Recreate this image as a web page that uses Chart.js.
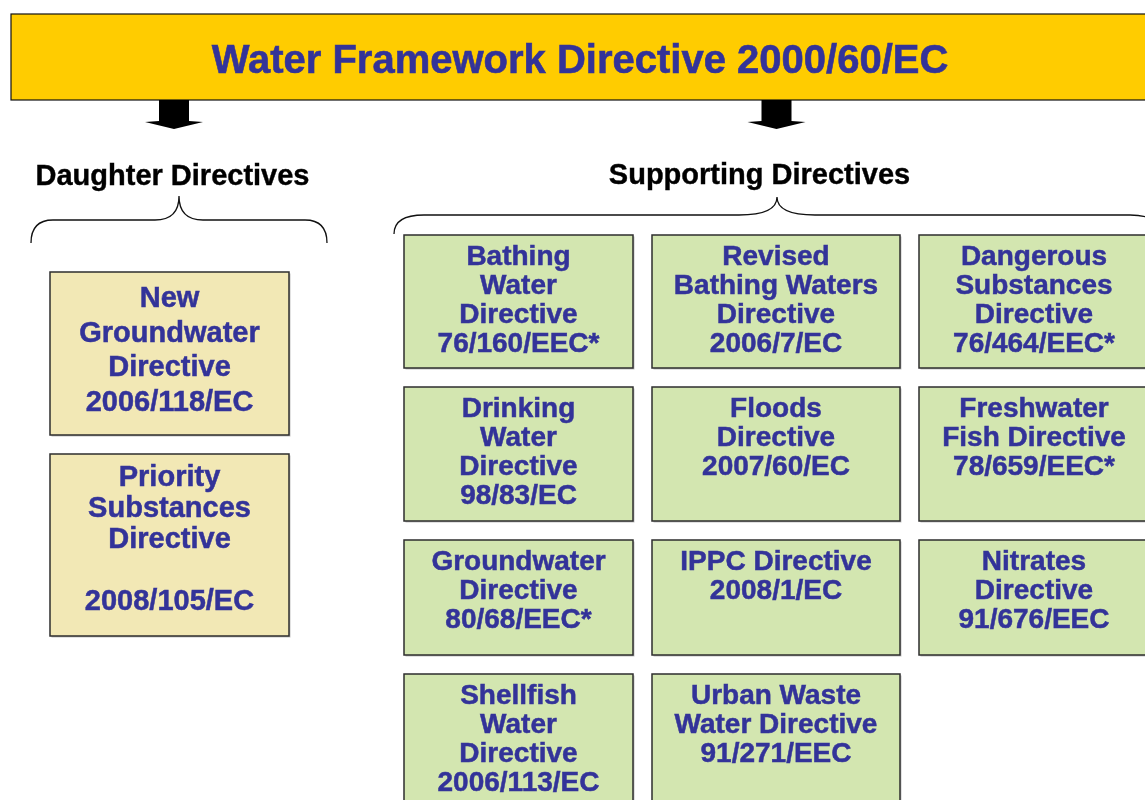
<!DOCTYPE html>
<html>
<head>
<meta charset="utf-8">
<script src="https://cdn.jsdelivr.net/npm/chart.js@4.4.1/dist/chart.umd.min.js"></script>
<style>
  html, body { margin: 0; padding: 0; background: #fff; }
  #wrap { width: 1145px; height: 800px; }
</style>
</head>
<body>
<div id="wrap"><canvas id="chart"></canvas></div>
<script>
// content
const title = "Water Framework Directive 2000/60/EC";
const groups = ["Daughter Directives", "Supporting Directives"];
const daughterDirectives = [
  ["New", "Groundwater", "Directive", "2006/118/EC"],
  ["Priority", "Substances", "Directive", "", "2008/105/EC"],
];
const supportingDirectives = [
  ["Bathing", "Water", "Directive", "76/160/EEC*"],
  ["Revised", "Bathing Waters", "Directive", "2006/7/EC"],
  ["Dangerous", "Substances", "Directive", "76/464/EEC*"],
  ["Drinking", "Water", "Directive", "98/83/EC"],
  ["Floods", "Directive", "2007/60/EC"],
  ["Freshwater", "Fish Directive", "78/659/EEC*"],
  ["Groundwater", "Directive", "80/68/EEC*"],
  ["IPPC Directive", "2008/1/EC"],
  ["Nitrates", "Directive", "91/676/EEC"],
  ["Shellfish", "Water", "Directive", "2006/113/EC"],
  ["Urban Waste", "Water Directive", "91/271/EEC"],
];

// layout, in page units (y grows downwards)
const layout = {
  titleBox: [11, 14, 1170, 100],
  titleY: 62,
  arrows: [174, 776.5],
  groupX: [172.5, 759.5],
  groupY: [177, 176],
  braces: [
    { l: 31, r: 327, tip: 179, top: 196, mid: 220, end: 243, rc: 22, rt: 24 },
    { l: 394, r: 1160, tip: 777, top: 197, mid: 215, end: 234, rc: 30, rt: 38 },
  ],
  daughterX: [50, 289],
  daughterRows: [[272, 435], [454, 636]],
  daughterText: [[27, 34.5], [24, 31]], // first line offset, line height
  cols: [[404, 633], [652, 900], [919, 1149]],
  rows: [[235, 368], [387, 521], [540, 655], [674, 830]],
  supportText: [22.5, 29],
};

const colors = {
  title: "#FFCC00",
  text: "#333399",
  daughter: "#F2E8B5",
  support: "#D3E6B0",
  border: "#2e2e2e",
};
const FONT = "'Liberation Sans', Arial, sans-serif";

const diagramPlugin = {
  id: "diagram",
  afterDraw(chart) {
    const ctx = chart.ctx;
    const X = v => chart.scales.x.getPixelForValue(v);
    const Y = v => chart.scales.y.getPixelForValue(v);

    function box(x0, y0, x1, y1, fill, shadow) {
      const px = X(x0), py = Y(y0), w = X(x1) - px, h = Y(y1) - py;
      if (shadow) {
        ctx.fillStyle = "#c4c4c4";
        ctx.fillRect(px + 1.5, py + 1.5, w, h);
      }
      ctx.fillStyle = fill;
      ctx.fillRect(px, py, w, h);
      ctx.strokeStyle = colors.border;
      ctx.lineWidth = 1.5;
      ctx.strokeRect(px, py, w, h);
    }

    // bold text, slightly thickened to match the heavier original
    function heavyText(t, x, y) {
      ctx.fillText(t, x, y);
      ctx.strokeText(t, x, y);
    }

    function lines(list, cx, y0, lh, size) {
      ctx.font = "bold " + size + "px " + FONT;
      ctx.fillStyle = colors.text;
      ctx.strokeStyle = colors.text;
      ctx.lineWidth = 0.5;
      ctx.textAlign = "center";
      ctx.textBaseline = "middle";
      list.forEach((t, i) => heavyText(t, X(cx), Y(y0 + i * lh)));
    }

    ctx.save();

    // title bar
    const tb = layout.titleBox;
    ctx.fillStyle = colors.title;
    ctx.fillRect(X(tb[0]), Y(tb[1]), X(tb[2]) - X(tb[0]), Y(tb[3]) - Y(tb[1]));
    ctx.strokeStyle = "#111";
    ctx.lineWidth = 1.2;
    ctx.strokeRect(X(tb[0]), Y(tb[1]), X(tb[2]) - X(tb[0]), Y(tb[3]) - Y(tb[1]));
    ctx.font = "bold 40px " + FONT;
    ctx.fillStyle = colors.text;
    ctx.strokeStyle = colors.text;
    ctx.lineWidth = 0.6;
    ctx.textAlign = "center";
    ctx.textBaseline = "middle";
    heavyText(title, X(580), Y(layout.titleY));

    // arrows
    ctx.fillStyle = "#000";
    layout.arrows.forEach(cx => {
      ctx.beginPath();
      ctx.moveTo(X(cx - 15), Y(100));
      ctx.lineTo(X(cx + 15), Y(100));
      ctx.lineTo(X(cx + 15), Y(121));
      ctx.lineTo(X(cx + 29), Y(122));
      ctx.lineTo(X(cx), Y(129));
      ctx.lineTo(X(cx - 29), Y(122));
      ctx.lineTo(X(cx - 15), Y(121));
      ctx.closePath();
      ctx.fill();
    });

    // group headings
    ctx.font = "bold 29px " + FONT;
    ctx.fillStyle = "#000";
    ctx.strokeStyle = "#000";
    ctx.lineWidth = 0.4;
    groups.forEach((g, i) => heavyText(g, X(layout.groupX[i]), Y(layout.groupY[i])));

    // braces
    ctx.strokeStyle = "#111";
    ctx.lineWidth = 1.3;
    layout.braces.forEach(b => {
      ctx.beginPath();
      ctx.moveTo(X(b.l), Y(b.end));
      ctx.quadraticCurveTo(X(b.l), Y(b.mid), X(b.l + b.rc), Y(b.mid));
      ctx.lineTo(X(b.tip - b.rt), Y(b.mid));
      ctx.quadraticCurveTo(X(b.tip), Y(b.mid), X(b.tip), Y(b.top));
      ctx.quadraticCurveTo(X(b.tip), Y(b.mid), X(b.tip + b.rt), Y(b.mid));
      ctx.lineTo(X(b.r - b.rc), Y(b.mid));
      ctx.quadraticCurveTo(X(b.r), Y(b.mid), X(b.r), Y(b.end));
      ctx.stroke();
    });

    // daughter directives
    daughterDirectives.forEach((d, i) => {
      const [y0, y1] = layout.daughterRows[i];
      const [x0, x1] = layout.daughterX;
      box(x0, y0, x1, y1, colors.daughter, true);
      const [off, lh] = layout.daughterText[i];
      lines(d, (x0 + x1) / 2, y0 + off, lh, 29);
    });

    // supporting directives, row by row
    supportingDirectives.forEach((d, i) => {
      const [x0, x1] = layout.cols[i % 3];
      const [y0, y1] = layout.rows[Math.floor(i / 3)];
      box(x0, y0, x1, y1, colors.support, true);
      lines(d, (x0 + x1) / 2, y0 + layout.supportText[0], layout.supportText[1], 28);
    });

    ctx.restore();
  },
};

new Chart(document.getElementById("chart"), {
  type: "scatter",
  data: { datasets: [] },
  options: {
    responsive: true,
    maintainAspectRatio: false,
    animation: false,
    layout: { padding: 0 },
    scales: {
      x: { type: "linear", min: 0, max: 1145, display: false },
      y: { type: "linear", min: 0, max: 800, reverse: true, display: false },
    },
    plugins: { legend: { display: false }, tooltip: { enabled: false } },
  },
  plugins: [diagramPlugin],
});
</script>
</body>
</html>
